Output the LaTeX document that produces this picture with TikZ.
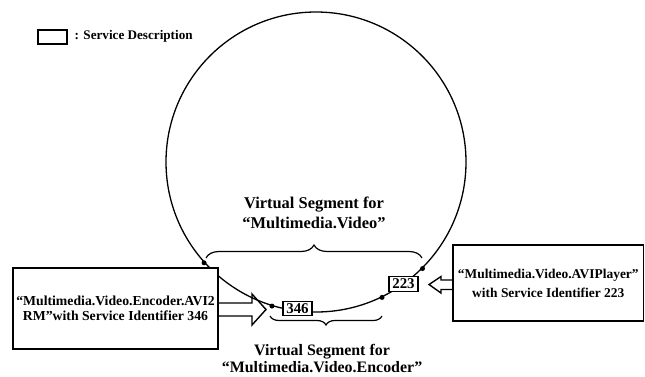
\documentclass[tikz,border=0pt]{standalone}
\usepackage{fontspec}
\setmainfont{Liberation Serif}
\usetikzlibrary{decorations.pathreplacing,calc}
\begin{document}
\begin{tikzpicture}[x=1bp,y=-1bp,
  box/.style={draw,line width=1.4bp,fill=white,inner sep=0pt},
  idbox/.style={draw,line width=1.3bp,fill=white,inner sep=0pt,font=\fontsize{15}{15}\selectfont\bfseries},
  dot/.style={circle,fill=black,inner sep=0pt,minimum size=5bp},
  ring/.style={circle,draw,line width=1.3bp,inner sep=0pt,minimum size=300bp},
  blockarrow/.style={line width=1.4bp,line join=miter},
  bracestyle/.style={line width=1.2bp,decorate,decoration={brace,amplitude=#1}},
  bracestyle/.default=12bp
]
\useasboundingbox (0,0) rectangle (645,376);
% legend
\node[box,minimum width=29bp,minimum height=14bp] (legend) at (52.5,37) {};
\node[anchor=west,inner sep=0pt,font=\fontsize{13.2}{13}\selectfont\bfseries] (legendtext) at (74.5,36.5) {: Service Description};
% ring
\node[ring] (ring) at (316,162) {};
% braces
\coordinate (b1l) at (206,258);
\coordinate (b1r) at (422,258);
\draw[bracestyle=13bp] (b1l) -- (b1r);
\coordinate (b2l) at (270,316);
\coordinate (b2r) at (382,316);
\draw[bracestyle=9bp,decoration={mirror}] (b2l) -- (b2r);
% labels
\node[align=center,inner sep=0pt,font=\fontsize{16.5}{20}\selectfont\bfseries] (seg1) at (314,213) {Virtual Segment for\\“Multimedia.Video”};
\node[align=center,inner sep=0pt,font=\fontsize{16}{17.5}\selectfont\bfseries] (seg2) at (322,358.5) {Virtual Segment for\\“Multimedia.Video.Encoder”};
% boxes
\node[box,minimum width=205bp,minimum height=81bp,align=center,font=\fontsize{13.8}{15.5}\selectfont\bfseries] (lbox) at (115.5,308.5) {“Multimedia.Video.Encoder.AVI2\\RM”with Service Identifier 346};
\node[box,minimum width=190.5bp,minimum height=76bp,align=center,font=\fontsize{13.5}{19}\selectfont\bfseries] (rbox) at (548.25,283) {“Multimedia.Video.AVIPlayer”\\with Service Identifier 223};
% block arrows
\draw[blockarrow] (lbox.east |- 0,303) -- (252,303) -- (252,294) -- (266,309.5) -- (252,325) -- (252,316) -- (lbox.east |- 0,316);
\draw[blockarrow] (rbox.west |- 0,280) -- (441,280) -- (441,276.5) -- (429,284.5) -- (441,293) -- (441,289.5) -- (rbox.west |- 0,289.5);
% id boxes
\node[idbox,minimum width=29bp,minimum height=14bp] (id346) at (297.5,308.5) {346};
\node[idbox,minimum width=29bp,minimum height=15bp] (id223) at (403.5,284) {223};
% dots
\node[dot] (d1) at (ring.222.8) {};
\node[dot] (d2) at (ring.253) {};
\node[dot] (d3) at (ring.296.2) {};
\node[dot] (d4) at (ring.315.3) {};
\end{tikzpicture}
\end{document}
